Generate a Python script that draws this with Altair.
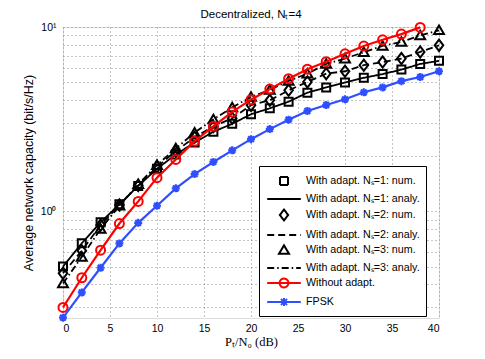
import altair as alt
import pandas as pd

# ---------------- data ----------------
x_db = [0, 2, 4, 6, 8, 10, 12, 14, 16, 18, 20, 22, 24, 26, 28, 30, 32, 34, 36, 38, 40]

ns1_num = [0.50, 0.67, 0.87, 1.09, 1.37, 1.70, 2.03, 2.36, 2.70, 2.98, 3.36, 3.62, 3.93, 4.40, 4.70, 5.00, 5.30, 5.55, 5.87, 6.30, 6.55]
ns1_analy = [0.50, 0.67, 0.87, 1.09, 1.37, 1.70, 2.03, 2.36, 2.70, 2.98, 3.36, 3.62, 3.93, 4.40, 4.70, 5.00, 5.30, 5.55, 5.87, 6.30, 6.55]
ns2_num = [0.46, 0.61, 0.84, 1.08, 1.38, 1.74, 2.12, 2.52, 2.88, 3.20, 3.76, 4.00, 4.53, 5.03, 5.58, 5.75, 6.20, 6.45, 6.74, 7.32, 7.95]
ns2_analy = [0.46, 0.61, 0.84, 1.08, 1.38, 1.74, 2.12, 2.52, 2.88, 3.20, 3.76, 4.00, 4.53, 5.03, 5.58, 5.75, 6.20, 6.45, 6.74, 7.32, 7.95]
ns3_num = [0.405, 0.565, 0.80, 1.07, 1.40, 1.78, 2.19, 2.67, 3.15, 3.66, 4.17, 4.55, 5.10, 5.58, 6.30, 6.74, 7.30, 7.90, 8.30, 9.00, 9.60]
ns3_analy = [0.405, 0.565, 0.80, 1.07, 1.40, 1.78, 2.19, 2.67, 3.15, 3.66, 4.17, 4.55, 5.10, 5.58, 6.30, 6.74, 7.30, 7.90, 8.30, 9.00, 9.60]
x_without = [0, 2, 4, 6, 8, 10, 12, 14, 16, 18, 20, 22, 24, 26, 28, 30, 32, 34, 36, 38]
without_adapt = [0.30, 0.435, 0.614, 0.857, 1.13, 1.52, 1.91, 2.40, 2.89, 3.46, 4.03, 4.60, 5.24, 5.90, 6.48, 7.15, 7.88, 8.52, 9.15, 9.95]
fpsk = [0.264, 0.362, 0.493, 0.668, 0.864, 1.07, 1.33, 1.59, 1.85, 2.14, 2.46, 2.79, 3.14, 3.50, 3.77, 4.05, 4.42, 4.70, 5.08, 5.35, 5.75]

legend_names = [
    "With adapt. N\u209b=1: num.",
    "With adapt. N\u209b=1: analy.",
    "With adapt. N\u209b=2: num.",
    "With adapt. N\u209b=2: analy.",
    "With adapt. N\u209b=3: num.",
    "With adapt. N\u209b=3: analy.",
    "Without adapt.",
    "FPSK",
]
x_ticks = [0, 5, 10, 15, 20, 25, 30, 35, 40]
y_grid = [0.3, 0.4, 0.5, 0.6, 0.7, 0.8, 0.9, 1, 2, 3, 4, 5, 6, 7, 8, 9, 10]

# ---------------- styles ----------------
RED = "#ff0000"
BLUE = "#2f4fff"
BLACK = "#000000"
DASH = [7, 4]
DASHDOT = [7, 3, 1.5, 3]
SOLID = [1, 0]

SQUARE = "M-1,-1H1V1H-1Z"
DIAMOND = "M0,-1.25L0.95,0L0,1.25L-0.95,0Z"
TRIANGLE = "M0,-1.05L1.1,0.85H-1.1Z"
ASTER = "M0,-1V1M-1,0H1M-0.72,-0.72L0.72,0.72M-0.72,0.72L0.72,-0.72"

LG_LINE = "M-2.1,0H2.1"
LG_SQUARE = "M-0.5,-0.5H0.5V0.5H-0.5Z"
LG_DIAMOND = "M0,-0.68L0.52,0L0,0.68L-0.52,0Z"
LG_TRIANGLE = "M0,-0.58L0.62,0.46H-0.62Z"
LG_CIRCLE = "M-2.1,0H2.1M0.55,0A0.55,0.55,0,1,1,-0.55,0A0.55,0.55,0,1,1,0.55,0"
LG_ASTER = "M-2.1,0H2.1M0,-0.5V0.5M-0.38,-0.38L0.38,0.38M-0.38,0.38L0.38,-0.38"

FONT = "Liberation Sans"


def X():
    return alt.X(
        "x:Q",
        scale=alt.Scale(domain=[0, 40], nice=False, zero=False),
        axis=alt.Axis(
            values=x_ticks,
            title="P\u209c/N\u2080 (dB)",
            titleFont="Liberation Serif",
            titleFontSize=12.5,
            titleFontWeight="normal",
            titlePadding=2,
            labelFont=FONT,
            labelFontSize=10.5,
            labelPadding=5,
            ticks=False,
            domain=False,
            grid=True,
            gridDash=[1, 3],
            gridColor="#8a8a8a",
            labelColor="black",
            titleColor="black",
        ),
    )


def Y():
    return alt.Y(
        "y:Q",
        scale=alt.Scale(type="log", domain=[0.263, 10], nice=False, zero=False),
        axis=alt.Axis(
            values=y_grid,
            labelExpr="datum.value == 1 ? '10\u2070' : (datum.value == 10 ? '10\u00b9' : '')",
            labelOverlap=False,
            title="Average network capacity (bit/s/Hz)",
            titleFont=FONT,
            titleFontSize=12.5,
            titleFontWeight="normal",
            titlePadding=5,
            labelFont=FONT,
            labelFontSize=10.5,
            labelPadding=7,
            ticks=False,
            domain=False,
            grid=True,
            gridDash=[1, 3],
            gridColor="#8a8a8a",
            labelColor="black",
            titleColor="black",
        ),
    )


def df(xs, ys):
    return pd.DataFrame({"x": xs, "y": ys})


layers = []

for num, analy, dash, shape, size in [
    (ns1_num, ns1_analy, SOLID, SQUARE, 64),
    (ns2_num, ns2_analy, DASH, DIAMOND, 81),
    (ns3_num, ns3_analy, DASHDOT, TRIANGLE, 81),
]:
    layers.append(
        alt.Chart(df(x_db, analy)).mark_line(color=BLACK, strokeWidth=1.8, strokeDash=dash)
        .encode(x=X(), y=Y())
    )
    layers.append(
        alt.Chart(df(x_db, num)).mark_point(shape=shape, size=size, filled=False, color=BLACK,
                                             strokeWidth=2, opacity=1)
        .encode(x=X(), y=Y())
    )

layers.append(
    alt.Chart(df(x_without, without_adapt)).mark_line(color=RED, strokeWidth=2.2).encode(x=X(), y=Y())
)
layers.append(
    alt.Chart(df(x_without, without_adapt)).mark_point(shape="circle", size=81, filled=False, color=RED,
                                                        strokeWidth=2, opacity=1)
    .encode(x=X(), y=Y())
)
layers.append(
    alt.Chart(df(x_db, fpsk)).mark_line(color=BLUE, strokeWidth=2.2).encode(x=X(), y=Y())
)
layers.append(
    alt.Chart(df(x_db, fpsk)).mark_point(shape=ASTER, size=64, filled=False, color=BLUE,
                                          strokeWidth=2.2, opacity=1)
    .encode(x=X(), y=Y())
)

# legend-only layer (points sit outside the x domain and are clipped)
legend_df = pd.DataFrame({"series": legend_names, "x": [-10] * 8, "y": [1] * 8})
leg = alt.Legend(
    title=None,
    orient="none",
    legendX=196,
    legendY=139,
    padding=6,
    strokeColor="black",
    fillColor="white",
    symbolSize=256,
    symbolStrokeWidth=2,
    symbolOffset=10,
    labelOffset=13,
    rowPadding=1,
    labelFont=FONT,
    labelFontSize=10.7,
    labelLimit=300,
    labelColor="black",
)
layers.append(
    alt.Chart(legend_df).mark_point(clip=True, filled=False, strokeWidth=2, opacity=1)
    .encode(
        x=X(),
        y=Y(),
        color=alt.Color("series:N", sort=legend_names,
                        scale=alt.Scale(domain=legend_names,
                                        range=[BLACK, BLACK, BLACK, BLACK, BLACK, BLACK, RED, BLUE]),
                        legend=leg),
        shape=alt.Shape("series:N", sort=legend_names,
                        scale=alt.Scale(domain=legend_names,
                                        range=[LG_SQUARE, LG_LINE, LG_DIAMOND, LG_LINE, LG_TRIANGLE, LG_LINE,
                                               LG_CIRCLE, LG_ASTER]),
                        legend=leg),
        strokeDash=alt.StrokeDash("series:N", sort=legend_names,
                                  scale=alt.Scale(domain=legend_names,
                                                  range=[SOLID, SOLID, SOLID, DASH, SOLID, DASHDOT, SOLID, SOLID]),
                                  legend=leg),
    )
)

chart = (
    alt.layer(*layers)
    .properties(
        width=376,
        height=291,
        padding={"left": 55, "top": 19, "right": 38, "bottom": 33},
        autosize=alt.AutoSizeParams(type="none"),
        title=alt.TitleParams(
            "Decentralized, N\u209c=4",
            font=FONT,
            fontSize=11.5,
            fontWeight="normal",
            color="black",
            anchor="middle",
            offset=-2,
        ),
    )
    .configure_view(stroke="black", strokeWidth=1)
    .configure(background="white")
)

chart.save("out.html", embed_options={"renderer": "svg", "actions": False})
